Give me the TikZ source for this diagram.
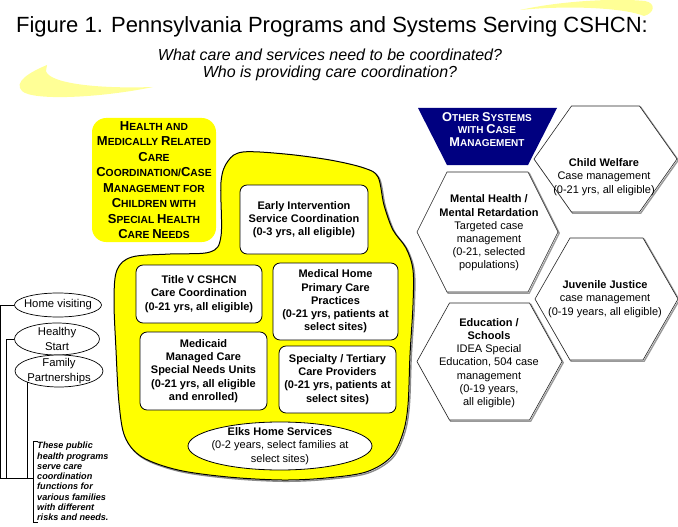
\documentclass[tikz,border=0pt]{standalone}
\usepackage{fontspec}
\setmainfont{Liberation Sans}
\usetikzlibrary{positioning,shapes.geometric}
\definecolor{hiyellow}{RGB}{255,255,0}
\definecolor{swoosh}{RGB}{255,255,150}
\definecolor{navyhead}{RGB}{0,0,128}
\newcommand\capl[1]{{\fontsize{13}{15.5}\selectfont #1}}
\newcommand\capn[1]{{\fontsize{12.8}{12.5}\selectfont #1}}
\tikzset{
  progbox/.style={rectangle, rounded corners=2.5mm, draw=black, line width=0.8pt,
                  fill=white, align=center, inner sep=2pt,
                  font=\fontsize{11}{13.2}\selectfont\bfseries},
  progoval/.style={ellipse, draw=black, line width=0.8pt, fill=white, inner sep=0pt},
  ovaltext/.style={align=center, inner sep=0pt, font=\fontsize{11}{13.2}\selectfont},
  pubhealth/.style={ellipse, draw=black, line width=0.7pt, fill=white, inner sep=0pt},
  pubtext/.style={align=center, inner sep=0pt, font=\fontsize{11.3}{15}\selectfont},
  headbox/.style={rectangle, rounded corners=5mm, fill=hiyellow, align=center,
                  inner sep=0pt, font=\fontsize{10.3}{15.5}\selectfont\bfseries},
  blob/.style={fill=hiyellow, draw=black, line width=1pt},
  blobshadow/.style={draw=black!45, line width=1.4pt},
  hexa/.style={draw=black!85, line width=0.6pt, fill=white},
  hexshadow/.style={draw=black!40, line width=1.4pt},
  hextext/.style={align=center, inner sep=0pt, font=\fontsize{11}{13.2}\selectfont},
  othersys/.style={align=center, inner sep=0pt, text=white,
                   font=\fontsize{10}{12.5}\selectfont\bfseries},
  bracket/.style={draw=black, line width=0.8pt},
  notetext/.style={align=left, inner xsep=4pt, inner ysep=1pt,
                   font=\fontsize{9.1}{10.3}\selectfont\bfseries\itshape},
}
\begin{document}
\begin{tikzpicture}[x=1pt, y=-1pt]
  \useasboundingbox (0,0) rectangle (678,527);

  % ---- swooshes ----
  \fill[swoosh] (520,10) .. controls (560,1) and (615,-2) .. (645,1)
    .. controls (656,3) and (655,13) .. (644,16)
    .. controls (625,8) and (570,5) .. (520,10) -- cycle;
  \fill[swoosh] (47,65) .. controls (30,72) and (13,82) .. (22,91)
    .. controls (32,101) and (100,98) .. (153,87)
    .. controls (95,89) and (49,83) .. (46,71) -- cycle;

  % ---- title ----
  \node[font=\fontsize{22}{26}\selectfont] (title) at (332,27)
    {Figure 1. Pennsylvania Programs and Systems Serving CSHCN:};
  \node[align=center, font=\fontsize{16}{17}\selectfont\itshape] (sub) at (330,64.5)
    {What care and services need to be coordinated?\\Who is providing care coordination?};

  % ---- yellow area ----
  \draw[blobshadow, shift={(1.3,1.3)}] plot[smooth cycle, tension=0.55] coordinates {
    (221,236) (221,182) (228,161) (243,152) (285,154) (330,160) (364,168) (378,177)
    (384,205) (393,230) (406,248) (413,270) (413,305) (410,355) (408,405) (403,433)
    (391,457) (366,472) (326,478) (282,480) (228,477) (178,470) (142,457) (125,437)
    (119,403) (116,350) (114,300) (117,270) (132,257) (170,254) (210,252)};
  \draw[blob] plot[smooth cycle, tension=0.55] coordinates {
    (221,236) (221,182) (228,161) (243,152) (285,154) (330,160) (364,168) (378,177)
    (384,205) (393,230) (406,248) (413,270) (413,305) (410,355) (408,405) (403,433)
    (391,457) (366,472) (326,478) (282,480) (228,477) (178,470) (142,457) (125,437)
    (119,403) (116,350) (114,300) (117,270) (132,257) (170,254) (210,252)};

  \node[headbox, minimum width=124pt, minimum height=124pt] (head) at (154,180)
    {\capl{H}EALTH AND\\\capl{M}EDICALLY \capl{R}ELATED\\\capl{C}ARE\\
     \capl{C}OORDINATION/\capl{C}ASE\\\capl{M}ANAGEMENT FOR\\\capl{C}HILDREN WITH\\
     \capl{S}PECIAL \capl{H}EALTH\\\capl{C}ARE \capl{N}EEDS};

  \node[progbox, minimum width=128pt, minimum height=69pt] (ei) at (304,219.5)
    {Early Intervention\\Service Coordination\\(0-3 yrs, all eligible)};
  \node[progbox, minimum width=126pt, minimum height=58pt] (titlev) at (199,294)
    {Title V CSHCN\\Care Coordination\\(0-21 yrs, all eligible)};
  \node[progbox, minimum width=125pt, minimum height=77pt] (medhome) at (335.5,301.5)
    {Medical Home\\Primary Care\\Practices\\(0-21 yrs, patients at\\select sites)};
  \node[progbox, minimum width=127pt, minimum height=78pt] (medicaid) at (203.5,371)
    {Medicaid\\Managed Care\\Special Needs Units\\(0-21 yrs, all eligible\\and enrolled)};
  \node[progbox, minimum width=117pt, minimum height=67pt] (spec) at (337.5,379.5)
    {Specialty / Tertiary\\Care Providers\\(0-21 yrs, patients at\\select sites)};
  \node[progoval, minimum width=184pt, minimum height=48pt,
        label={[ovaltext]center:\textbf{Elks Home Services}\\(0-2 years, select families at\\select sites)}]
    (elks) at (280,446) {};

  % ---- public health programs ----
  \node[pubhealth, minimum width=87pt, minimum height=24pt,
        label={[pubtext]center:Home visiting}] (homevis) at (58,305) {};
  \node[pubhealth, minimum width=85pt, minimum height=32pt,
        label={[pubtext]center:Healthy\\Start}] (healthy) at (57,339) {};
  \node[pubhealth, minimum width=88pt, minimum height=32pt,
        label={[pubtext]center:Family\\Partnerships}] (family) at (59,371) {};
  \node[notetext, anchor=north west] (note) at (33,441)
    {These public\\health programs\\serve care\\coordination\\functions for\\various families\\with different\\risks and needs.};
  \coordinate (join) at (33,478);
  \draw[bracket] (homevis.west) -- ++(-14,0) |- (join);
  \draw[bracket] (healthy.west) -- ++(-8,0) |- (join);
  \draw[bracket] (family.200) |- (join);
  \draw[bracket] ([xshift=5pt]note.north west) -- (note.north west)
    -- (note.south west) -- ([xshift=5pt]note.south west);

  % ---- other systems ----
  \fill[navyhead] (418,108) -- (557,108) -- (528,165) -- (447,165) -- cycle;
  \node[othersys] (other) at (487,129.5)
    {\capn{O}THER \capn{S}YSTEMS\\WITH \capn{C}ASE\\\capn{M}ANAGEMENT};
  \foreach \cx/\cy/\hw/\tw/\hh in {605.5/159/71.5/34/53, 487.5/232/70.5/40.5/60,
                                   606.5/299/71.5/36.5/61, 489.5/361.5/72.5/40/58.5} {
    \draw[hexshadow, shift={(1.2,1.2)}] (\cx-\hw,\cy) -- (\cx-\tw,\cy-\hh) -- (\cx+\tw,\cy-\hh)
      -- (\cx+\hw,\cy) -- (\cx+\tw,\cy+\hh) -- (\cx-\tw,\cy+\hh) -- cycle;
    \draw[hexa] (\cx-\hw,\cy) -- (\cx-\tw,\cy-\hh) -- (\cx+\tw,\cy-\hh)
      -- (\cx+\hw,\cy) -- (\cx+\tw,\cy+\hh) -- (\cx-\tw,\cy+\hh) -- cycle;
  }
  \node[hextext] (welfare) at (604,177)
    {\textbf{Child Welfare}\\Case management\\(0-21 yrs, all eligible)};
  \node[hextext] (mental) at (489,233)
    {\textbf{Mental Health /}\\\textbf{Mental Retardation}\\Targeted case\\management\\(0-21, selected\\populations)};
  \node[hextext] (justice) at (605,299)
    {\textbf{Juvenile Justice}\\case management\\(0-19 years, all eligible)};
  \node[hextext] (school) at (489,363)
    {\textbf{Education /}\\\textbf{Schools}\\IDEA Special\\Education, 504 case\\management\\(0-19 years,\\all eligible)};
\end{tikzpicture}
\end{document}
